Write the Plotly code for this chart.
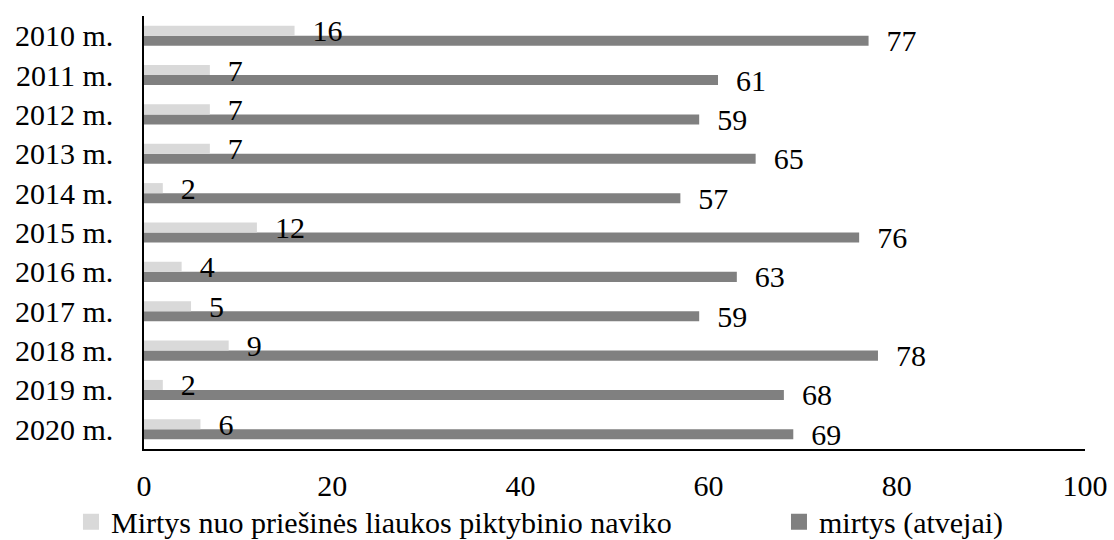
import plotly.graph_objects as go

# Years shown on the vertical axis, top to bottom
years = ["2010 m.", "2011 m.", "2012 m.", "2013 m.", "2014 m.", "2015 m.",
         "2016 m.", "2017 m.", "2018 m.", "2019 m.", "2020 m."]

# Prostate cancer deaths
prostate_deaths = [16, 7, 7, 7, 2, 12, 4, 5, 9, 2, 6]
# All deaths (cases)
all_deaths = [77, 61, 59, 65, 57, 76, 63, 59, 78, 68, 69]

name_prostate = "Mirtys nuo priešinės liaukos piktybinio naviko"
name_all = "mirtys (atvejai)"

x_ticks = [0, 20, 40, 60, 80, 100]

FONT = "Liberation Serif"
LIGHT = "#d9d9d9"
DARK = "#808080"
FS = 30
BAR_W = 0.255

fig = go.Figure()

# Dark bars first (lower half of each band), then light bars (upper half)
# so the light bars' value labels sit on top of the dark bars.
for vals, color, name, off in [(all_deaths, DARK, name_all, 0.0),
                               (prostate_deaths, LIGHT, name_prostate, -BAR_W)]:
    fig.add_trace(go.Bar(
        y=years, x=vals, orientation="h", name=name,
        width=BAR_W, offset=off,
        marker=dict(color=color, line=dict(width=0)),
        texttemplate="\u00a0\u00a0%{x}", textposition="outside",
        textfont=dict(family=FONT, size=FS, color="black"),
        constraintext="none", cliponaxis=False, showlegend=False,
    ))

# Legend entries with square swatches, one legend box per series
for color, name, leg in [(LIGHT, name_prostate, "legend"),
                         (DARK, name_all, "legend2")]:
    fig.add_trace(go.Scatter(
        x=[None], y=[None], mode="markers", name=name, legend=leg,
        marker=dict(symbol="square", size=16, color=color),
    ))

legend_style = dict(
    orientation="h", xanchor="left", yanchor="middle",
    font=dict(family=FONT, size=FS, color="black"),
    itemsizing="trace", bgcolor="rgba(0,0,0,0)",
)

fig.update_layout(
    width=1114, height=540,
    margin=dict(l=144, r=29, t=16, b=91, autoexpand=False),
    plot_bgcolor="white", paper_bgcolor="white",
    barmode="overlay",
    font=dict(family=FONT, size=FS, color="black"),
    showlegend=True,
    legend=dict(x=-0.0776, y=-0.168, **legend_style),
    legend2=dict(x=0.6748, y=-0.168, **legend_style),
)

fig.update_xaxes(
    range=[0, 100], tickvals=x_ticks, showgrid=False, zeroline=False,
    showline=True, linecolor="black", linewidth=1.5,
    ticks="", ticklabelstandoff=9,
    tickfont=dict(family=FONT, size=FS, color="black"),
)
fig.update_yaxes(
    categoryorder="array", categoryarray=years, autorange="reversed",
    tickmode="array", tickvals=years,
    showgrid=False, zeroline=False,
    showline=True, linecolor="black", linewidth=1.5,
    ticks="", ticklabelstandoff=23,
    tickfont=dict(family=FONT, size=FS, color="black"),
)

fig.write_html("out.html")
